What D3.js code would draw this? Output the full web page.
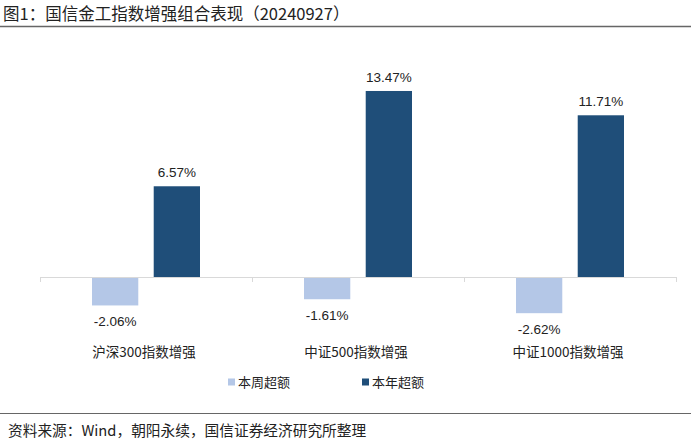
<!DOCTYPE html>
<html><head><meta charset="utf-8">
<script src="https://cdn.jsdelivr.net/npm/d3@7"></script>
<style>body{margin:0;background:#fff;} svg{display:block;}</style>
</head><body>
<svg id="c" width="700" height="443"></svg>
<script>
const categories = ["沪深300指数增强", "中证500指数增强", "中证1000指数增强"];
const seriesNames = ["本周超额", "本年超额"];
const weekly = [-2.06, -1.61, -2.62];
const yearly = [6.57, 13.47, 11.71];
const colors = ["#B4C7E7", "#1F4E79"];

const font = "'Liberation Sans', Arial, 'Noto Sans CJK SC', sans-serif";
const cjk = "'Noto Sans CJK SC', 'Liberation Sans', sans-serif";
const svg = d3.select("#c");

// title
svg.append("text").attr("x", 3).attr("y", 20).attr("font-family", cjk)
  .attr("font-size", 16.5).attr("fill", "#222").text("图1：国信金工指数增强组合表现（20240927）");
svg.append("line").attr("x1", 0).attr("x2", 691).attr("y1", 26.5).attr("y2", 26.5)
  .attr("stroke", "#666").attr("stroke-width", 1.5);

const x0 = d3.scaleBand().domain(categories).range([40, 676]).paddingInner(0).paddingOuter(0);
const x1 = d3.scaleBand().domain(seriesNames).range([52, 160]).paddingInner(0.25).paddingOuter(0);
const y = d3.scaleLinear().domain([-4, 16]).range([332.24, 56.04]);

const data = categories.map((c, i) => ({cat: c, vals: [weekly[i], yearly[i]]}));

const g = svg.append("g");
data.forEach(d => {
  d.vals.forEach((v, j) => {
    const bx = x0(d.cat) + x1(seriesNames[j]);
    const bw = x1.bandwidth();
    g.append("rect").attr("x", bx).attr("width", bw)
      .attr("y", y(Math.max(0, v))).attr("height", Math.abs(y(v) - y(0)))
      .attr("fill", colors[j]);
    g.append("text").attr("x", bx + bw / 2)
      .attr("y", v >= 0 ? y(v) - 9 : y(v) + 21)
      .attr("text-anchor", "middle").attr("font-family", font)
      .attr("font-size", 13.5).attr("fill", "#222")
      .text(v.toFixed(2) + "%");
  });
});

// axis
const axis = d3.axisBottom(x0).tickSize(0).tickFormat(() => "");
const ax = svg.append("g").attr("transform", `translate(0,${y(0)})`).call(axis);
ax.select(".domain").attr("stroke", "#d9d9d9").attr("d", `M40,0.5H676`);
ax.selectAll(".tick").remove();
const bounds = [40, ...categories.map(c => x0(c) + x0.bandwidth())];
ax.selectAll("line.b").data(bounds).enter().append("line")
  .attr("x1", d => d + 0.5).attr("x2", d => d + 0.5).attr("y1", 0).attr("y2", 5)
  .attr("stroke", "#d9d9d9");

// category labels
svg.selectAll("text.cat").data(categories).enter().append("text")
  .attr("x", d => x0(d) + x0.bandwidth() / 2 - 2).attr("y", 357)
  .attr("text-anchor", "middle").attr("font-family", cjk).attr("font-size", 13.5)
  .attr("fill", "#222").text(d => d);

// legend
const lx = [228, 362];
seriesNames.forEach((s, j) => {
  svg.append("rect").attr("x", lx[j]).attr("y", 378.5).attr("width", 7).attr("height", 7).attr("fill", colors[j]);
  svg.append("text").attr("x", lx[j] + 10).attr("y", 387).attr("font-family", cjk)
    .attr("font-size", 13).attr("fill", "#222").text(s);
});

// footer
svg.append("line").attr("x1", 0).attr("x2", 691).attr("y1", 413.5).attr("y2", 413.5)
  .attr("stroke", "#666").attr("stroke-width", 1.2);
svg.append("text").attr("x", 8).attr("y", 436).attr("font-family", cjk)
  .attr("font-size", 14.7).attr("fill", "#222").text("资料来源：Wind，朝阳永续，国信证券经济研究所整理");
</script>
</body></html>
